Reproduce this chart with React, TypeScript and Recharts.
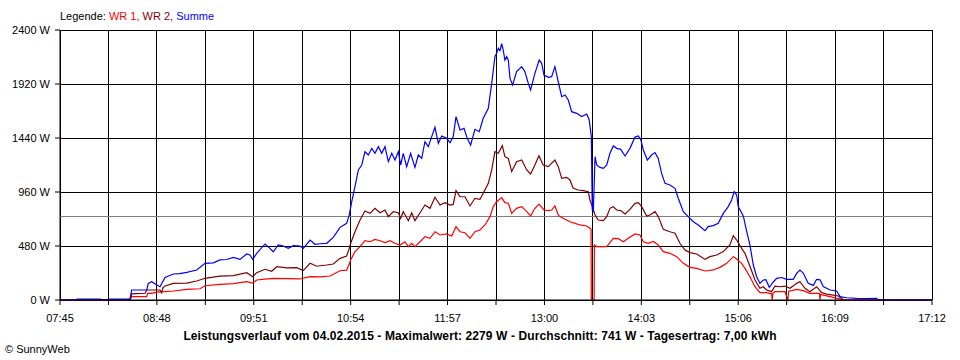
import { LineChart, Line, XAxis, YAxis, CartesianGrid, ReferenceLine } from "recharts";

// time of day in minutes since midnight, power in W
const timeLabels = ["07:45", "08:48", "09:51", "10:54", "11:57", "13:00", "14:03", "15:06", "16:09", "17:12"];
const wattTicks = [0, 480, 960, 1440, 1920, 2400];
const average = 741;

const sumTime = [
  465.0, 475.4, 476.1, 491.0, 493.6, 497.5, 509.2, 510.5, 511.6, 521.4, 522.4, 524.6, 527.9, 530.0, 533.3, 538.7,
  543.0, 547.4, 553.9, 559.3, 564.7, 569.0, 573.4, 577.7, 582.0, 586.4, 588.5, 590.3, 592.9, 598.3, 601.5, 603.7,
  606.9, 610.2, 613.4, 616.7, 621.0, 623.2, 627.6, 630.8, 634.1, 638.4, 642.7, 647.1, 651.4, 653.1, 654.7, 656.8,
  659.0, 661.2, 663.3, 665.5, 667.7, 669.8, 672.0, 674.2, 676.3, 678.5, 680.7, 682.8, 685.0, 686.5, 688.2, 690.4,
  693.0, 695.8, 698.0, 700.2, 702.3, 704.5, 706.7, 708.8, 711.0, 713.2, 716.4, 718.6, 720.7, 722.5, 725.1, 727.7,
  729.8, 732.0, 734.8, 737.6, 740.2, 743.5, 745.7, 747.8, 748.9, 750.0, 751.1, 752.2, 753.2, 754.3, 755.4, 756.5,
  757.6, 759.3, 761.9, 765.2, 767.3, 769.5, 771.0, 773.8, 776.6, 778.2, 779.7, 782.5, 784.7, 786.8, 789.0, 791.2,
  793.4, 795.5, 797.7, 801.0, 804.2, 807.5, 809.1, 810.5, 811.1, 811.8, 812.9, 814.0, 816.1, 818.3, 820.5, 822.6,
  824.8, 827.0, 829.6, 832.4, 835.6, 838.9, 841.0, 842.6, 844.3, 846.9, 849.7, 851.9, 854.0, 856.2, 858.4, 861.6,
  864.9, 867.0, 870.3, 873.5, 876.8, 880.0, 884.4, 886.5, 889.8, 893.0, 896.3, 899.5, 901.7, 903.4, 905.0, 906.0,
  909.3, 911.5, 913.6, 915.8, 918.0, 920.1, 922.3, 924.0, 926.2, 928.8, 931.0, 934.2, 937.5, 941.8, 944.0, 946.1,
  948.3, 951.5, 954.8, 957.0, 959.2, 961.3, 965.7, 970.0, 972.2, 976.5, 983.0, 989.5, 996.0, 996.9, 1032,
];
const sumWatt = [
  0, 0, 8, 8, 0, 8, 8, 8, 89, 89, 148, 163, 133, 118, 201, 231,
  235, 246, 267, 326, 330, 356, 360, 379, 361, 409, 400, 361, 415, 498, 459, 429,
  489, 480, 459, 483, 480, 459, 533, 495, 500, 504, 557, 646, 681, 756, 874, 1007,
  1156, 1200, 1318, 1289, 1348, 1304, 1363, 1304, 1363, 1230, 1304, 1244, 1318, 1200, 1304, 1185,
  1304, 1179, 1289, 1259, 1407, 1363, 1452, 1535, 1393, 1458, 1437, 1398, 1452, 1630, 1511, 1526,
  1437, 1378, 1517, 1496, 1615, 1704, 1926, 2163, 2193, 2237, 2216, 2279, 2222, 2133, 2163, 2133,
  1970, 1911, 2030, 2074, 2030, 1926, 1867, 2015, 2133, 2104, 2000, 1979, 1985, 2074, 1940, 1807,
  1822, 1778, 1674, 1659, 1630, 1653, 1600, 1452, 800, 790, 1274, 1200, 1179, 1170, 1200, 1304,
  1369, 1348, 1339, 1280, 1348, 1448, 1458, 1428, 1333, 1244, 1289, 1310, 1259, 1126, 1037, 1022,
  993, 904, 785, 741, 696, 667, 616, 652, 661, 681, 770, 830, 889, 963, 933, 830,
  748, 610, 490, 311, 207, 148, 178, 180, 113, 160, 193, 200, 184, 184, 237, 267,
  240, 148, 130, 184, 180, 120, 89, 80, 30, 20, 15, 12, 14, 0, 0,
];

const wr2Time = [
  465.0, 510.5, 511.6, 520.3, 521.4, 530.0, 531.1, 532.0, 533.3, 538.7, 547.4, 553.9, 559.3, 569.0, 577.7, 586.4,
  590.3, 592.9, 598.3, 602.6, 605.9, 612.4, 618.9, 623.2, 627.6, 631.9, 638.4, 642.7, 647.1, 651.4, 653.1, 654.0,
  656.8, 660.1, 663.3, 666.6, 669.8, 673.1, 676.3, 678.5, 681.7, 685.0, 686.5, 688.2, 691.5, 693.7, 695.8, 699.1,
  702.3, 705.6, 708.8, 712.1, 715.3, 718.6, 720.7, 722.5, 725.1, 728.3, 731.6, 734.8, 738.1, 740.7, 743.5, 745.7,
  747.8, 750.0, 752.6, 754.3, 756.5, 758.7, 761.9, 765.2, 768.5, 771.0, 773.8, 776.4, 779.2, 782.5, 786.8, 789.0,
  791.2, 794.4, 796.6, 798.7, 802.0, 805.3, 808.5, 809.6, 811.1, 812.9, 815.0, 818.3, 820.5, 822.6, 824.8, 827.0,
  829.6, 832.4, 835.6, 838.9, 841.0, 843.2, 846.5, 848.6, 851.9, 854.0, 857.3, 861.6, 864.9, 868.1, 871.4, 874.6,
  879.0, 884.4, 887.6, 892.0, 896.3, 900.6, 902.8, 905.0, 908.2, 910.4, 913.6, 916.9, 920.1, 922.3, 924.5, 927.7,
  929.9, 933.1, 936.4, 939.7, 944.0, 946.1, 949.4, 952.6, 957.0, 960.2, 963.5, 967.8, 971.0, 973.3, 974.1, 1032,
];
const wr2Watt = [
  0, 0, 55, 60, 89, 89, 65, 110, 124, 148, 150, 169, 193, 213, 216, 243,
  207, 243, 273, 255, 296, 285, 287, 261, 326, 300, 311, 320, 370, 391, 459, 504,
  607, 711, 791, 770, 815, 776, 800, 741, 785, 776, 726, 785, 705, 776, 705, 776,
  844, 815, 913, 844, 865, 844, 850, 972, 918, 918, 836, 904, 895, 963, 1037, 1156,
  1319, 1304, 1372, 1274, 1259, 1141, 1230, 1244, 1156, 1120, 1200, 1283, 1200, 1185, 1244, 1185,
  1081, 1090, 1067, 993, 978, 972, 963, 889, 830, 756, 711, 705, 741, 815, 830, 800,
  795, 764, 806, 859, 865, 830, 747, 756, 785, 741, 628, 607, 593, 504, 444, 421,
  409, 361, 385, 400, 430, 489, 572, 533, 459, 415, 300, 178, 104, 118, 89, 74,
  124, 118, 124, 104, 148, 163, 104, 74, 118, 65, 53, 44, 36, 15, 0, 0,
];

const wr1Time = [
  465.0, 510.5, 511.6, 521.4, 522.0, 524.6, 527.9, 533.3, 538.7, 547.4, 556.0, 559.3, 569.0, 577.7, 586.4, 590.3,
  592.9, 598.3, 603.7, 612.4, 621.0, 627.6, 634.1, 640.6, 647.1, 651.4, 653.1, 654.0, 656.8, 660.1, 663.3, 666.6,
  669.8, 673.1, 676.3, 679.6, 682.8, 686.1, 689.3, 691.5, 693.7, 695.8, 699.1, 702.3, 705.6, 708.8, 712.1, 716.4,
  719.7, 722.5, 725.1, 728.3, 731.6, 734.8, 738.1, 741.3, 744.6, 746.7, 748.9, 752.2, 754.3, 756.5, 758.7, 761.9,
  765.2, 768.5, 771.0, 773.8, 776.4, 779.7, 782.5, 784.7, 786.8, 789.0, 790.1, 793.4, 796.6, 799.9, 803.1, 807.5,
  809.6, 810.3, 810.5, 812.3, 812.5, 814.0, 820.5, 822.6, 824.8, 828.1, 831.3, 834.5, 838.9, 842.1, 844.3, 847.5,
  850.8, 854.0, 857.3, 861.6, 866.0, 870.3, 874.6, 879.0, 884.4, 889.8, 894.1, 898.5, 902.8, 905.0, 908.2, 910.4,
  913.6, 916.9, 920.1, 924.5, 927.7, 928.1, 928.6, 929.9, 936.4, 938.3, 938.8, 940.8, 944.0, 948.3, 952.6, 957.0,
  958.9, 959.1, 959.6, 961.3, 965.7, 970.0, 972.2, 973.5, 1032,
];
const wr1Watt = [
  0, 0, 30, 30, 59, 59, 70, 74, 80, 95, 100, 127, 139, 145, 163, 150,
  178, 185, 193, 190, 187, 207, 205, 213, 260, 265, 320, 356, 430, 474, 527, 518,
  539, 527, 510, 527, 504, 489, 518, 474, 504, 474, 518, 563, 548, 607, 578, 587,
  569, 652, 607, 598, 548, 607, 622, 667, 741, 830, 874, 910, 865, 860, 770, 815,
  830, 785, 747, 815, 853, 800, 794, 800, 836, 756, 741, 717, 696, 681, 667, 658,
  637, 630, 0, 0, 489, 474, 474, 510, 548, 545, 518, 548, 587, 578, 518, 504,
  520, 489, 430, 415, 385, 326, 290, 281, 258, 267, 290, 326, 385, 365, 326, 281,
  207, 118, 65, 65, 55, 0, 60, 74, 74, 0, 78, 83, 95, 83, 59, 59,
  59, 0, 50, 44, 30, 15, 10, 0, 0,
];

const toPoints = (ts: number[], ws: number[]) => ts.map((t, i) => ({ t, w: ws[i] }));
const sumData = toPoints(sumTime, sumWatt);
const wr1Data = toPoints(wr1Time, wr1Watt);
const wr2Data = toPoints(wr2Time, wr2Watt);

function toMin(s: string) {
  const [h, m] = s.split(":").map(Number);
  return h * 60 + m;
}

const labelMins = timeLabels.map(toMin);
// grid every half step between the labelled times
const xTicks = labelMins.flatMap((m, i) => (i < labelMins.length - 1 ? [m, (m + labelMins[i + 1]) / 2] : [m]));

function fmtTime(v: number) {
  const i = labelMins.indexOf(v);
  return i >= 0 ? timeLabels[i] : "";
}

const FONT = "'Liberation Sans', Arial, sans-serif";
const tickStyle = { fill: "#000", fontSize: 11, fontFamily: FONT };

export default function App() {
  return (
    <div style={{ position: "absolute", left: 0, top: 0, width: 960, height: 360, background: "#fff", fontFamily: FONT }}>
      <LineChart width={960} height={360} margin={{ top: 30, right: 28, bottom: 0, left: 0 }}>
        <CartesianGrid stroke="#000" shapeRendering="crispEdges" />
        <XAxis
          dataKey="t"
          type="number"
          domain={[labelMins[0], labelMins[labelMins.length - 1]]}
          ticks={xTicks}
          interval={0}
          tickFormatter={fmtTime}
          tick={tickStyle}
          tickSize={5}
          tickMargin={9}
          tickLine={{ stroke: "#000" }}
          axisLine={{ stroke: "#000" }}
          height={60}
          allowDuplicatedCategory={false}
        />
        <YAxis
          type="number"
          domain={[0, 2400]}
          ticks={wattTicks}
          interval={0}
          tickFormatter={(v) => `${v} W`}
          tick={tickStyle}
          tickSize={5}
          tickMargin={5}
          tickLine={{ stroke: "#000" }}
          axisLine={{ stroke: "#000" }}
          width={60}
        />
        <ReferenceLine y={average} stroke="#808080" shapeRendering="crispEdges" />
        <Line data={wr1Data} dataKey="w" name="WR 1" type="linear" stroke="#ff0000" strokeWidth={1.2} dot={false} isAnimationActive={false} />
        <Line data={wr2Data} dataKey="w" name="WR 2" type="linear" stroke="#800000" strokeWidth={1.2} dot={false} isAnimationActive={false} />
        <Line data={sumData} dataKey="w" name="Summe" type="linear" stroke="#0000ff" strokeWidth={1.2} dot={false} isAnimationActive={false} />
      </LineChart>

      <div style={{ position: "absolute", left: 60, top: 10, fontSize: 11, lineHeight: "12px", whiteSpace: "nowrap" }}>
        <span style={{ color: "#000" }}>Legende: </span>
        <span style={{ color: "#ff0000" }}>WR 1, </span>
        <span style={{ color: "#800000" }}>WR 2, </span>
        <span style={{ color: "#0000ff" }}>Summe</span>
      </div>
      <div
        style={{
          position: "absolute",
          left: 0,
          top: 330,
          width: 960,
          textAlign: "center",
          fontSize: 12,
          lineHeight: "12px",
          letterSpacing: 0.1,
          fontWeight: "bold",
          whiteSpace: "nowrap",
        }}
      >
        Leistungsverlauf vom 04.02.2015 - Maximalwert: 2279 W - Durchschnitt: 741 W - Tagesertrag: 7,00 kWh
      </div>
      <div style={{ position: "absolute", left: 5, top: 343, fontSize: 11, lineHeight: "12px" }}>© SunnyWeb</div>
    </div>
  );
}
